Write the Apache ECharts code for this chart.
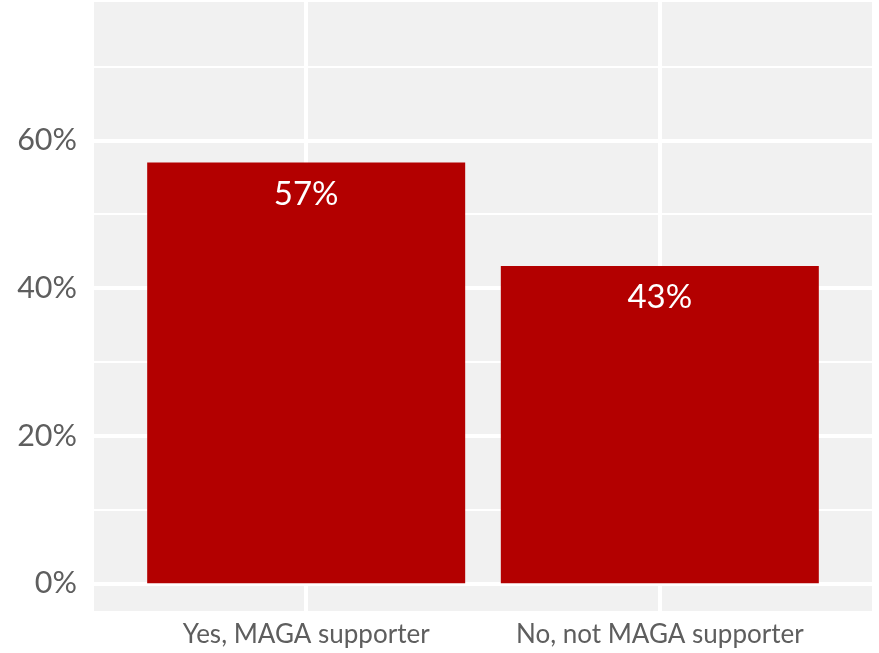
<!DOCTYPE html>
<html>
<head>
<meta charset="utf-8">
<script src="https://cdn.jsdelivr.net/npm/echarts@6/dist/echarts.min.js"></script>
<style>
html,body{margin:0;padding:0;background:#fff;}
#chart{width:879px;height:653px;}
</style>
</head>
<body>
<div id="chart"></div>
<script>
const categories = ["Yes, MAGA supporter", "No, not MAGA supporter"];
const values = [57, 43];
const yTicks = [0, 20, 40, 60];
const yMinorTicks = [10, 30, 50, 70];

const yMin = -3.75, yMax = 78.75;
const catPositions = categories.map((c, i) => i + 1);
const barData = values.map((v, i) => [catPositions[i], v]);

const chart = echarts.init(document.getElementById('chart'), null, {renderer: 'canvas'});
const textColor = '#5e5e5e';
chart.setOption({
  animation: false,
  backgroundColor: '#ffffff',
  textStyle: {fontFamily: 'Lato'},
  grid: {
    left: 94, right: 7, top: 2, bottom: 42,
    show: true, backgroundColor: '#f1f1f1', borderWidth: 0,
    containLabel: false
  },
  xAxis: {
    type: 'value', min: 0.4, max: 2.6,
    axisLine: {show: false},
    axisTick: {show: false, customValues: catPositions},
    axisLabel: {
      customValues: catPositions,
      formatter: v => categories[Math.round(v) - 1] || '',
      color: textColor, fontSize: 26, fontFamily: 'Lato', margin: 11
    },
    splitLine: {show: true, lineStyle: {color: '#ffffff', width: 4}}
  },
  yAxis: [{
    type: 'value', min: yMin, max: yMax,
    axisLine: {show: false},
    axisTick: {show: false, customValues: yTicks},
    axisLabel: {
      customValues: yTicks,
      formatter: v => v + '%',
      color: textColor, fontSize: 30.5, fontFamily: 'Lato', margin: 17
    },
    splitLine: {show: true, lineStyle: {color: '#ffffff', width: 4}}
  }, {
    type: 'value', min: yMin, max: yMax, position: 'left',
    axisLine: {show: false},
    axisTick: {show: false, customValues: yMinorTicks},
    axisLabel: {show: false, customValues: yMinorTicks},
    splitLine: {show: true, lineStyle: {color: '#ffffff', width: 2}}
  }],
  series: [{
    type: 'bar',
    yAxisIndex: 0,
    data: barData,
    barWidth: 318,
    itemStyle: {color: '#b30000'},
    label: {
      show: true, position: 'insideTop', distance: 15,
      formatter: p => p.value[1] + '%',
      color: '#ffffff', fontSize: 33, fontFamily: 'Lato'
    }
  }]
});
</script>
</body>
</html>
